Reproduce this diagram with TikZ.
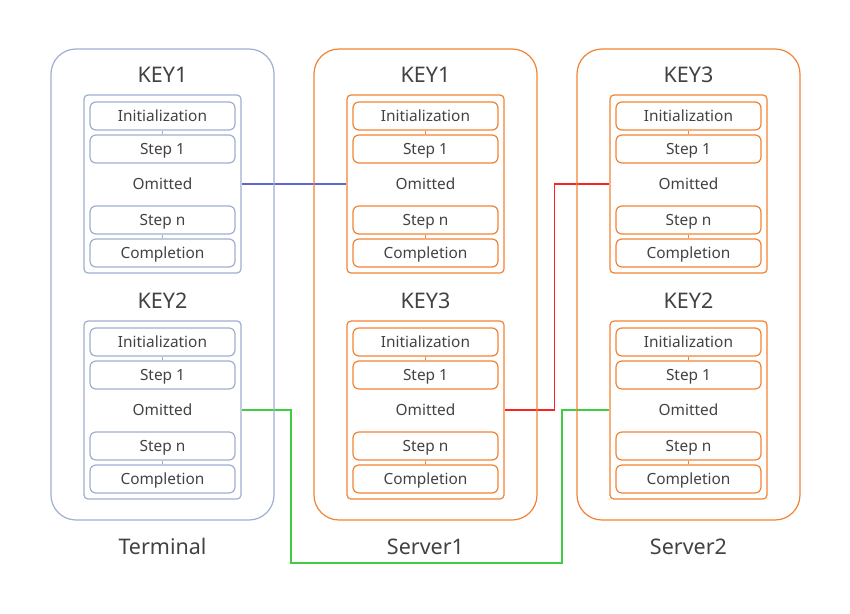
\documentclass[tikz,border=0pt]{standalone}
\usepackage{fontspec}
\setmainfont{Noto Sans}
\usepackage{xcolor}
\usetikzlibrary{backgrounds}
\definecolor{colT}{RGB}{158,174,207}
\definecolor{colS}{RGB}{242,130,50}
\definecolor{txt}{RGB}{66,66,66}
\definecolor{lnB}{RGB}{95,105,205}
\definecolor{lnR}{RGB}{250,35,35}
\definecolor{lnG}{RGB}{65,205,65}
\tikzset{
  outer/.style  ={draw,line width=1.2pt,rounded corners=25pt,minimum width=223pt,minimum height=471pt,inner sep=0pt},
  grp/.style    ={draw,line width=1.2pt,rounded corners=4pt,minimum width=157pt,minimum height=178pt,inner sep=0pt},
  stepbox/.style={draw,line width=1.2pt,rounded corners=6pt,minimum width=145pt,minimum height=28pt,inner sep=0pt,text=txt,text height=14pt,text depth=3pt,font=\fontsize{15.4}{17}\selectfont},
  omit/.style   ={inner sep=0pt,text=txt,text height=14pt,text depth=3pt,font=\fontsize{15.4}{17}\selectfont},
  ttl/.style    ={inner sep=0pt,text=txt,text height=19pt,text depth=4pt,font=\fontsize{21.5}{25}\selectfont},
  link/.style   ={line width=1.2pt},
  wire/.style   ={line width=1.5pt},
}

\begin{document}
\begin{tikzpicture}[x=1pt,y=-1pt]
  \useasboundingbox (0,0) rectangle (850,613);
  \foreach \cid/\dx/\col/\ka/\kb/\nm in {t/0/colT/KEY1/KEY2/Terminal,u/263/colS/KEY1/KEY3/Server1,v/526/colS/KEY3/KEY2/Server2}{
    \node[outer,draw=\col] (\cid) at (162.5+\dx,284.5) {};
    \node[ttl] (\cid-lbl) at (162.5+\dx,547) {\nm};
    \foreach \g/\dy/\k in {a/0/\ka,b/226/\kb}{
      \node[ttl] (\cid\g-key) at (162.5+\dx,75+\dy) {\k};
      \node[grp,draw=\col] (\cid\g) at (162.5+\dx,184+\dy) {};
      \node[stepbox,draw=\col] (\cid\g-i) at (162.5+\dx,116+\dy) {Initialization};
      \node[stepbox,draw=\col] (\cid\g-s) at (162.5+\dx,149+\dy) {Step 1};
      \node[omit] (\cid\g-o) at (162.5+\dx,184+\dy) {Omitted};
      \node[stepbox,draw=\col] (\cid\g-n) at (162.5+\dx,220+\dy) {Step n};
      \node[stepbox,draw=\col] (\cid\g-c) at (162.5+\dx,253+\dy) {Completion};
      \draw[link,\col] (\cid\g-i) -- (\cid\g-s);
      \draw[link,\col] (\cid\g-n) -- (\cid\g-c);
    }
  }
  \coordinate (gdown) at (291,563);
  \coordinate (gup) at (562,563);
  \begin{scope}[on background layer]
    \draw[wire,lnB] (ta.east) -- (ua.west);
    \draw[wire,lnR] (ub.east) -- ++(50,0) |- (va.west);
    \draw[wire,lnG] (tb.east) -| (gdown) -- (gup) |- (vb.west);
  \end{scope}
\end{tikzpicture}
\end{document}
